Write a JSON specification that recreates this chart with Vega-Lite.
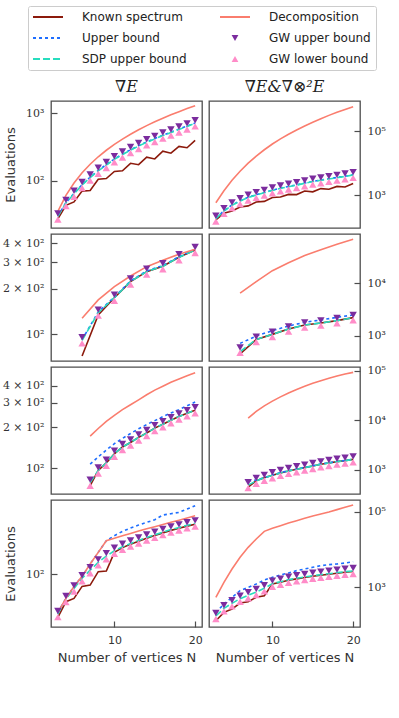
{
"$schema": "https://vega.github.io/schema/vega-lite/v6.json",
"padding": {"left": 1, "top": 5, "right": 0, "bottom": 0},
"background": "white",
"data": {"values": [
{"p":"1L","s":"K","n":3,"v":27.5},{"p":"1L","s":"K","n":4,"v":43.7},{"p":"1L","s":"K","n":5,"v":49.0},{"p":"1L","s":"K","n":6,"v":70.8},{"p":"1L","s":"K","n":7,"v":72.4},{"p":"1L","s":"K","n":8,"v":105.9},{"p":"1L","s":"K","n":9,"v":108.4},{"p":"1L","s":"K","n":10,"v":138.0},{"p":"1L","s":"K","n":11,"v":141.3},{"p":"1L","s":"K","n":12,"v":182.0},{"p":"1L","s":"K","n":13,"v":173.8},{"p":"1L","s":"K","n":14,"v":223.9},{"p":"1L","s":"K","n":15,"v":211.3},{"p":"1L","s":"K","n":16,"v":275.4},{"p":"1L","s":"K","n":17,"v":257.0},{"p":"1L","s":"K","n":18,"v":323.6},{"p":"1L","s":"K","n":19,"v":309.0},{"p":"1L","s":"K","n":20,"v":398.1},
{"p":"1L","s":"U","n":3,"v":30.3},{"p":"1L","s":"U","n":4,"v":47.9},{"p":"1L","s":"U","n":5,"v":65.4},{"p":"1L","s":"U","n":6,"v":88.1},{"p":"1L","s":"U","n":7,"v":113.5},{"p":"1L","s":"U","n":8,"v":143.0},{"p":"1L","s":"U","n":9,"v":173.9},{"p":"1L","s":"U","n":10,"v":211.4},{"p":"1L","s":"U","n":11,"v":248.4},{"p":"1L","s":"U","n":12,"v":288.5},{"p":"1L","s":"U","n":13,"v":331.2},{"p":"1L","s":"U","n":14,"v":376.0},{"p":"1L","s":"U","n":15,"v":421.9},{"p":"1L","s":"U","n":16,"v":473.3},{"p":"1L","s":"U","n":17,"v":525.0},{"p":"1L","s":"U","n":18,"v":582.3},{"p":"1L","s":"U","n":19,"v":646.0},{"p":"1L","s":"U","n":20,"v":716.4},
{"p":"1L","s":"S","n":3,"v":29.9},{"p":"1L","s":"S","n":4,"v":47.3},{"p":"1L","s":"S","n":5,"v":64.6},{"p":"1L","s":"S","n":6,"v":87.1},{"p":"1L","s":"S","n":7,"v":112.2},{"p":"1L","s":"S","n":8,"v":141.3},{"p":"1L","s":"S","n":9,"v":171.8},{"p":"1L","s":"S","n":10,"v":208.9},{"p":"1L","s":"S","n":11,"v":245.5},{"p":"1L","s":"S","n":12,"v":285.1},{"p":"1L","s":"S","n":13,"v":327.3},{"p":"1L","s":"S","n":14,"v":371.5},{"p":"1L","s":"S","n":15,"v":416.9},{"p":"1L","s":"S","n":16,"v":467.7},{"p":"1L","s":"S","n":17,"v":518.8},{"p":"1L","s":"S","n":18,"v":575.4},{"p":"1L","s":"S","n":19,"v":638.3},{"p":"1L","s":"S","n":20,"v":707.9},
{"p":"1L","s":"D","n":3,"v":35.5},{"p":"1L","s":"D","n":4,"v":61.2},{"p":"1L","s":"D","n":5,"v":93.3},{"p":"1L","s":"D","n":6,"v":131.8},{"p":"1L","s":"D","n":7,"v":176.6},{"p":"1L","s":"D","n":8,"v":227.5},{"p":"1L","s":"D","n":9,"v":283.8},{"p":"1L","s":"D","n":10,"v":346.7},{"p":"1L","s":"D","n":11,"v":415.0},{"p":"1L","s":"D","n":12,"v":489.8},{"p":"1L","s":"D","n":13,"v":570.2},{"p":"1L","s":"D","n":14,"v":656.1},{"p":"1L","s":"D","n":15,"v":746.5},{"p":"1L","s":"D","n":16,"v":843.3},{"p":"1L","s":"D","n":17,"v":946.2},{"p":"1L","s":"D","n":18,"v":1054},{"p":"1L","s":"D","n":19,"v":1169},{"p":"1L","s":"D","n":20,"v":1288},
{"p":"1L","s":"GU","n":3,"v":33.2},{"p":"1L","s":"GU","n":4,"v":52.5},{"p":"1L","s":"GU","n":5,"v":71.6},{"p":"1L","s":"GU","n":6,"v":96.6},{"p":"1L","s":"GU","n":7,"v":124.4},{"p":"1L","s":"GU","n":8,"v":156.7},{"p":"1L","s":"GU","n":9,"v":190.5},{"p":"1L","s":"GU","n":10,"v":231.7},{"p":"1L","s":"GU","n":11,"v":272.3},{"p":"1L","s":"GU","n":12,"v":316.2},{"p":"1L","s":"GU","n":13,"v":363.0},{"p":"1L","s":"GU","n":14,"v":412.0},{"p":"1L","s":"GU","n":15,"v":462.3},{"p":"1L","s":"GU","n":16,"v":518.7},{"p":"1L","s":"GU","n":17,"v":575.3},{"p":"1L","s":"GU","n":18,"v":638.1},{"p":"1L","s":"GU","n":19,"v":707.9},{"p":"1L","s":"GU","n":20,"v":785.1},
{"p":"1L","s":"GL","n":3,"v":27.0},{"p":"1L","s":"GL","n":4,"v":42.7},{"p":"1L","s":"GL","n":5,"v":58.3},{"p":"1L","s":"GL","n":6,"v":78.5},{"p":"1L","s":"GL","n":7,"v":101.2},{"p":"1L","s":"GL","n":8,"v":127.4},{"p":"1L","s":"GL","n":9,"v":154.9},{"p":"1L","s":"GL","n":10,"v":188.4},{"p":"1L","s":"GL","n":11,"v":221.4},{"p":"1L","s":"GL","n":12,"v":257.1},{"p":"1L","s":"GL","n":13,"v":295.1},{"p":"1L","s":"GL","n":14,"v":335.0},{"p":"1L","s":"GL","n":15,"v":375.9},{"p":"1L","s":"GL","n":16,"v":421.7},{"p":"1L","s":"GL","n":17,"v":467.8},{"p":"1L","s":"GL","n":18,"v":518.8},{"p":"1L","s":"GL","n":19,"v":575.6},{"p":"1L","s":"GL","n":20,"v":638.3},
{"p":"1R","s":"K","n":3,"v":166},{"p":"1R","s":"K","n":4,"v":269},{"p":"1R","s":"K","n":5,"v":316},{"p":"1R","s":"K","n":6,"v":422},{"p":"1R","s":"K","n":7,"v":457},{"p":"1R","s":"K","n":8,"v":603},{"p":"1R","s":"K","n":9,"v":631},{"p":"1R","s":"K","n":10,"v":832},{"p":"1R","s":"K","n":11,"v":871},{"p":"1R","s":"K","n":12,"v":1047},{"p":"1R","s":"K","n":13,"v":1030},{"p":"1R","s":"K","n":14,"v":1334},{"p":"1R","s":"K","n":15,"v":1259},{"p":"1R","s":"K","n":16,"v":1585},{"p":"1R","s":"K","n":17,"v":1514},{"p":"1R","s":"K","n":18,"v":1862},{"p":"1R","s":"K","n":19,"v":1778},{"p":"1R","s":"K","n":20,"v":2291},
{"p":"1R","s":"U","n":3,"v":186},{"p":"1R","s":"U","n":4,"v":322},{"p":"1R","s":"U","n":5,"v":489},{"p":"1R","s":"U","n":6,"v":659},{"p":"1R","s":"U","n":7,"v":849},{"p":"1R","s":"U","n":8,"v":1020},{"p":"1R","s":"U","n":9,"v":1199},{"p":"1R","s":"U","n":10,"v":1424},{"p":"1R","s":"U","n":11,"v":1654},{"p":"1R","s":"U","n":12,"v":1856},{"p":"1R","s":"U","n":13,"v":2083},{"p":"1R","s":"U","n":14,"v":2363},{"p":"1R","s":"U","n":15,"v":2683},{"p":"1R","s":"U","n":16,"v":2942},{"p":"1R","s":"U","n":17,"v":3225},{"p":"1R","s":"U","n":18,"v":3536},{"p":"1R","s":"U","n":19,"v":3878},{"p":"1R","s":"U","n":20,"v":4301},
{"p":"1R","s":"S","n":3,"v":182},{"p":"1R","s":"S","n":4,"v":316},{"p":"1R","s":"S","n":5,"v":479},{"p":"1R","s":"S","n":6,"v":646},{"p":"1R","s":"S","n":7,"v":832},{"p":"1R","s":"S","n":8,"v":1000},{"p":"1R","s":"S","n":9,"v":1175},{"p":"1R","s":"S","n":10,"v":1396},{"p":"1R","s":"S","n":11,"v":1622},{"p":"1R","s":"S","n":12,"v":1820},{"p":"1R","s":"S","n":13,"v":2042},{"p":"1R","s":"S","n":14,"v":2317},{"p":"1R","s":"S","n":15,"v":2630},{"p":"1R","s":"S","n":16,"v":2884},{"p":"1R","s":"S","n":17,"v":3162},{"p":"1R","s":"S","n":18,"v":3467},{"p":"1R","s":"S","n":19,"v":3802},{"p":"1R","s":"S","n":20,"v":4217},
{"p":"1R","s":"D","n":3,"v":575},{"p":"1R","s":"D","n":4,"v":1365},{"p":"1R","s":"D","n":5,"v":2884},{"p":"1R","s":"D","n":6,"v":5559},{"p":"1R","s":"D","n":7,"v":9886},{"p":"1R","s":"D","n":8,"v":16406},{"p":"1R","s":"D","n":9,"v":26002},{"p":"1R","s":"D","n":10,"v":39355},{"p":"1R","s":"D","n":11,"v":56885},{"p":"1R","s":"D","n":12,"v":79433},{"p":"1R","s":"D","n":13,"v":108393},{"p":"1R","s":"D","n":14,"v":144544},{"p":"1R","s":"D","n":15,"v":188365},{"p":"1R","s":"D","n":16,"v":242661},{"p":"1R","s":"D","n":17,"v":309030},{"p":"1R","s":"D","n":18,"v":384592},{"p":"1R","s":"D","n":19,"v":473151},{"p":"1R","s":"D","n":20,"v":575440},
{"p":"1R","s":"GU","n":3,"v":224},{"p":"1R","s":"GU","n":4,"v":389},{"p":"1R","s":"GU","n":5,"v":589},{"p":"1R","s":"GU","n":6,"v":795},{"p":"1R","s":"GU","n":7,"v":1023},{"p":"1R","s":"GU","n":8,"v":1230},{"p":"1R","s":"GU","n":9,"v":1445},{"p":"1R","s":"GU","n":10,"v":1717},{"p":"1R","s":"GU","n":11,"v":1995},{"p":"1R","s":"GU","n":12,"v":2239},{"p":"1R","s":"GU","n":13,"v":2512},{"p":"1R","s":"GU","n":14,"v":2850},{"p":"1R","s":"GU","n":15,"v":3235},{"p":"1R","s":"GU","n":16,"v":3547},{"p":"1R","s":"GU","n":17,"v":3890},{"p":"1R","s":"GU","n":18,"v":4264},{"p":"1R","s":"GU","n":19,"v":4677},{"p":"1R","s":"GU","n":20,"v":5187},
{"p":"1R","s":"GL","n":3,"v":148},{"p":"1R","s":"GL","n":4,"v":257},{"p":"1R","s":"GL","n":5,"v":389},{"p":"1R","s":"GL","n":6,"v":525},{"p":"1R","s":"GL","n":7,"v":676},{"p":"1R","s":"GL","n":8,"v":813},{"p":"1R","s":"GL","n":9,"v":955},{"p":"1R","s":"GL","n":10,"v":1135},{"p":"1R","s":"GL","n":11,"v":1319},{"p":"1R","s":"GL","n":12,"v":1480},{"p":"1R","s":"GL","n":13,"v":1660},{"p":"1R","s":"GL","n":14,"v":1884},{"p":"1R","s":"GL","n":15,"v":2138},{"p":"1R","s":"GL","n":16,"v":2345},{"p":"1R","s":"GL","n":17,"v":2571},{"p":"1R","s":"GL","n":18,"v":2819},{"p":"1R","s":"GL","n":19,"v":3091},{"p":"1R","s":"GL","n":20,"v":3428},
{"p":"2L","s":"K","n":6,"v":71.5},{"p":"2L","s":"K","n":8,"v":134},{"p":"2L","s":"K","n":10,"v":174.2},{"p":"2L","s":"K","n":12,"v":222.8},{"p":"2L","s":"K","n":14,"v":259.4},{"p":"2L","s":"K","n":16,"v":281.8},{"p":"2L","s":"K","n":18,"v":322.8},{"p":"2L","s":"K","n":20,"v":361.4},
{"p":"2L","s":"U","n":6,"v":91.7},{"p":"2L","s":"U","n":8,"v":140.1},{"p":"2L","s":"U","n":10,"v":175.9},{"p":"2L","s":"U","n":12,"v":225.0},{"p":"2L","s":"U","n":14,"v":262.0},{"p":"2L","s":"U","n":16,"v":284.6},{"p":"2L","s":"U","n":18,"v":326.0},{"p":"2L","s":"U","n":20,"v":365.0},
{"p":"2L","s":"S","n":6,"v":90.8},{"p":"2L","s":"S","n":8,"v":138.7},{"p":"2L","s":"S","n":10,"v":174.2},{"p":"2L","s":"S","n":12,"v":222.8},{"p":"2L","s":"S","n":14,"v":259.4},{"p":"2L","s":"S","n":16,"v":281.8},{"p":"2L","s":"S","n":18,"v":322.8},{"p":"2L","s":"S","n":20,"v":361.4},
{"p":"2L","s":"D","n":6,"v":127.1},{"p":"2L","s":"D","n":8,"v":168.3},{"p":"2L","s":"D","n":10,"v":206.1},{"p":"2L","s":"D","n":12,"v":242.7},{"p":"2L","s":"D","n":14,"v":279.9},{"p":"2L","s":"D","n":16,"v":309.0},{"p":"2L","s":"D","n":18,"v":338.8},{"p":"2L","s":"D","n":20,"v":364.8},
{"p":"2L","s":"GU","n":6,"v":95.1},{"p":"2L","s":"GU","n":8,"v":145.2},{"p":"2L","s":"GU","n":10,"v":182.4},{"p":"2L","s":"GU","n":12,"v":233.3},{"p":"2L","s":"GU","n":14,"v":271.6},{"p":"2L","s":"GU","n":16,"v":295.1},{"p":"2L","s":"GU","n":18,"v":338.0},{"p":"2L","s":"GU","n":20,"v":378.4},
{"p":"2L","s":"GL","n":6,"v":86.7},{"p":"2L","s":"GL","n":8,"v":132.5},{"p":"2L","s":"GL","n":10,"v":166.4},{"p":"2L","s":"GL","n":12,"v":212.8},{"p":"2L","s":"GL","n":14,"v":247.7},{"p":"2L","s":"GL","n":16,"v":269.1},{"p":"2L","s":"GL","n":18,"v":308.3},{"p":"2L","s":"GL","n":20,"v":345.1},
{"p":"2R","s":"K","n":6,"v":447},{"p":"2R","s":"K","n":8,"v":851},{"p":"2R","s":"K","n":10,"v":1059},{"p":"2R","s":"K","n":12,"v":1340},{"p":"2R","s":"K","n":14,"v":1600},{"p":"2R","s":"K","n":16,"v":1746},{"p":"2R","s":"K","n":18,"v":1936},{"p":"2R","s":"K","n":20,"v":2208},
{"p":"2R","s":"U","n":6,"v":713},{"p":"2R","s":"U","n":8,"v":986},{"p":"2R","s":"U","n":10,"v":1247},{"p":"2R","s":"U","n":12,"v":1531},{"p":"2R","s":"U","n":14,"v":1799},{"p":"2R","s":"U","n":16,"v":1995},{"p":"2R","s":"U","n":18,"v":2239},{"p":"2R","s":"U","n":20,"v":2483},
{"p":"2R","s":"S","n":6,"v":494},{"p":"2R","s":"S","n":8,"v":851},{"p":"2R","s":"S","n":10,"v":1059},{"p":"2R","s":"S","n":12,"v":1340},{"p":"2R","s":"S","n":14,"v":1600},{"p":"2R","s":"S","n":16,"v":1746},{"p":"2R","s":"S","n":18,"v":1936},{"p":"2R","s":"S","n":20,"v":2208},
{"p":"2R","s":"D","n":6,"v":6457},{"p":"2R","s":"D","n":8,"v":10715},{"p":"2R","s":"D","n":10,"v":17378},{"p":"2R","s":"D","n":12,"v":24547},{"p":"2R","s":"D","n":14,"v":33884},{"p":"2R","s":"D","n":16,"v":43652},{"p":"2R","s":"D","n":18,"v":55590},{"p":"2R","s":"D","n":20,"v":69183},
{"p":"2R","s":"GU","n":6,"v":597},{"p":"2R","s":"GU","n":8,"v":955},{"p":"2R","s":"GU","n":10,"v":1188},{"p":"2R","s":"GU","n":12,"v":1503},{"p":"2R","s":"GU","n":14,"v":1795},{"p":"2R","s":"GU","n":16,"v":1959},{"p":"2R","s":"GU","n":18,"v":2172},{"p":"2R","s":"GU","n":20,"v":2477},
{"p":"2R","s":"GL","n":6,"v":474},{"p":"2R","s":"GL","n":8,"v":758},{"p":"2R","s":"GL","n":10,"v":944},{"p":"2R","s":"GL","n":12,"v":1194},{"p":"2R","s":"GL","n":14,"v":1426},{"p":"2R","s":"GL","n":16,"v":1556},{"p":"2R","s":"GL","n":18,"v":1725},{"p":"2R","s":"GL","n":20,"v":1968},
{"p":"3L","s":"K","n":7,"v":74.5},{"p":"3L","s":"K","n":8,"v":96.2},{"p":"3L","s":"K","n":9,"v":109.4},{"p":"3L","s":"K","n":10,"v":127.4},{"p":"3L","s":"K","n":11,"v":142.9},{"p":"3L","s":"K","n":12,"v":154.2},{"p":"3L","s":"K","n":13,"v":167.9},{"p":"3L","s":"K","n":14,"v":180.7},{"p":"3L","s":"K","n":15,"v":196.3},{"p":"3L","s":"K","n":16,"v":209.9},{"p":"3L","s":"K","n":17,"v":224.4},{"p":"3L","s":"K","n":18,"v":238.8},{"p":"3L","s":"K","n":19,"v":252.4},{"p":"3L","s":"K","n":20,"v":265.5},
{"p":"3L","s":"U","n":7,"v":106.9},{"p":"3L","s":"U","n":8,"v":120.8},{"p":"3L","s":"U","n":9,"v":135.8},{"p":"3L","s":"U","n":10,"v":151.0},{"p":"3L","s":"U","n":11,"v":165.2},{"p":"3L","s":"U","n":12,"v":179.5},{"p":"3L","s":"U","n":13,"v":194.1},{"p":"3L","s":"U","n":14,"v":208.4},{"p":"3L","s":"U","n":15,"v":222.8},{"p":"3L","s":"U","n":16,"v":238.2},{"p":"3L","s":"U","n":17,"v":253.5},{"p":"3L","s":"U","n":18,"v":267.9},{"p":"3L","s":"U","n":19,"v":286.4},{"p":"3L","s":"U","n":20,"v":304.8},
{"p":"3L","s":"S","n":7,"v":78.3},{"p":"3L","s":"S","n":8,"v":96.2},{"p":"3L","s":"S","n":9,"v":109.4},{"p":"3L","s":"S","n":10,"v":127.4},{"p":"3L","s":"S","n":11,"v":142.9},{"p":"3L","s":"S","n":12,"v":154.2},{"p":"3L","s":"S","n":13,"v":167.9},{"p":"3L","s":"S","n":14,"v":180.7},{"p":"3L","s":"S","n":15,"v":196.3},{"p":"3L","s":"S","n":16,"v":209.9},{"p":"3L","s":"S","n":17,"v":224.4},{"p":"3L","s":"S","n":18,"v":238.8},{"p":"3L","s":"S","n":19,"v":252.4},{"p":"3L","s":"S","n":20,"v":265.5},
{"p":"3L","s":"D","n":7,"v":171.8},{"p":"3L","s":"D","n":8,"v":195.0},{"p":"3L","s":"D","n":9,"v":220.3},{"p":"3L","s":"D","n":10,"v":243.8},{"p":"3L","s":"D","n":11,"v":267.9},{"p":"3L","s":"D","n":12,"v":291.1},{"p":"3L","s":"D","n":13,"v":316.2},{"p":"3L","s":"D","n":14,"v":344.4},{"p":"3L","s":"D","n":15,"v":372.4},{"p":"3L","s":"D","n":16,"v":398.1},{"p":"3L","s":"D","n":17,"v":425.6},{"p":"3L","s":"D","n":18,"v":449.8},{"p":"3L","s":"D","n":19,"v":475.3},{"p":"3L","s":"D","n":20,"v":500.0},
{"p":"3L","s":"GU","n":7,"v":82.4},{"p":"3L","s":"GU","n":8,"v":101.2},{"p":"3L","s":"GU","n":9,"v":115.1},{"p":"3L","s":"GU","n":10,"v":134.0},{"p":"3L","s":"GU","n":11,"v":150.3},{"p":"3L","s":"GU","n":12,"v":162.2},{"p":"3L","s":"GU","n":13,"v":176.6},{"p":"3L","s":"GU","n":14,"v":190.1},{"p":"3L","s":"GU","n":15,"v":206.5},{"p":"3L","s":"GU","n":16,"v":220.8},{"p":"3L","s":"GU","n":17,"v":236.1},{"p":"3L","s":"GU","n":18,"v":251.2},{"p":"3L","s":"GU","n":19,"v":265.5},{"p":"3L","s":"GU","n":20,"v":279.3},
{"p":"3L","s":"GL","n":7,"v":74.4},{"p":"3L","s":"GL","n":8,"v":91.4},{"p":"3L","s":"GL","n":9,"v":104.0},{"p":"3L","s":"GL","n":10,"v":121.1},{"p":"3L","s":"GL","n":11,"v":135.8},{"p":"3L","s":"GL","n":12,"v":146.6},{"p":"3L","s":"GL","n":13,"v":159.6},{"p":"3L","s":"GL","n":14,"v":171.8},{"p":"3L","s":"GL","n":15,"v":186.6},{"p":"3L","s":"GL","n":16,"v":199.5},{"p":"3L","s":"GL","n":17,"v":213.3},{"p":"3L","s":"GL","n":18,"v":227.0},{"p":"3L","s":"GL","n":19,"v":239.9},{"p":"3L","s":"GL","n":20,"v":252.4},
{"p":"3R","s":"K","n":7,"v":450},{"p":"3R","s":"K","n":8,"v":603},{"p":"3R","s":"K","n":9,"v":692},{"p":"3R","s":"K","n":10,"v":782},{"p":"3R","s":"K","n":11,"v":871},{"p":"3R","s":"K","n":12,"v":955},{"p":"3R","s":"K","n":13,"v":1030},{"p":"3R","s":"K","n":14,"v":1114},{"p":"3R","s":"K","n":15,"v":1202},{"p":"3R","s":"K","n":16,"v":1297},{"p":"3R","s":"K","n":17,"v":1380},{"p":"3R","s":"K","n":18,"v":1469},{"p":"3R","s":"K","n":19,"v":1538},{"p":"3R","s":"K","n":20,"v":1633},
{"p":"3R","s":"U","n":7,"v":600},{"p":"3R","s":"U","n":8,"v":625},{"p":"3R","s":"U","n":9,"v":700},{"p":"3R","s":"U","n":10,"v":790},{"p":"3R","s":"U","n":11,"v":880},{"p":"3R","s":"U","n":12,"v":965},{"p":"3R","s":"U","n":13,"v":1040},{"p":"3R","s":"U","n":14,"v":1125},{"p":"3R","s":"U","n":15,"v":1214},{"p":"3R","s":"U","n":16,"v":1310},{"p":"3R","s":"U","n":17,"v":1394},{"p":"3R","s":"U","n":18,"v":1484},{"p":"3R","s":"U","n":19,"v":1553},{"p":"3R","s":"U","n":20,"v":1649},
{"p":"3R","s":"S","n":7,"v":493},{"p":"3R","s":"S","n":8,"v":603},{"p":"3R","s":"S","n":9,"v":692},{"p":"3R","s":"S","n":10,"v":782},{"p":"3R","s":"S","n":11,"v":871},{"p":"3R","s":"S","n":12,"v":955},{"p":"3R","s":"S","n":13,"v":1030},{"p":"3R","s":"S","n":14,"v":1114},{"p":"3R","s":"S","n":15,"v":1202},{"p":"3R","s":"S","n":16,"v":1297},{"p":"3R","s":"S","n":17,"v":1380},{"p":"3R","s":"S","n":18,"v":1469},{"p":"3R","s":"S","n":19,"v":1538},{"p":"3R","s":"S","n":20,"v":1633},
{"p":"3R","s":"D","n":7,"v":11143},{"p":"3R","s":"D","n":8,"v":15136},{"p":"3R","s":"D","n":9,"v":19634},{"p":"3R","s":"D","n":10,"v":24378},{"p":"3R","s":"D","n":11,"v":29717},{"p":"3R","s":"D","n":12,"v":35727},{"p":"3R","s":"D","n":13,"v":41687},{"p":"3R","s":"D","n":14,"v":48641},{"p":"3R","s":"D","n":15,"v":55847},{"p":"3R","s":"D","n":16,"v":63096},{"p":"3R","s":"D","n":17,"v":70307},{"p":"3R","s":"D","n":18,"v":78163},{"p":"3R","s":"D","n":19,"v":85704},{"p":"3R","s":"D","n":20,"v":92683},
{"p":"3R","s":"GU","n":7,"v":566},{"p":"3R","s":"GU","n":8,"v":692},{"p":"3R","s":"GU","n":9,"v":794},{"p":"3R","s":"GU","n":10,"v":898},{"p":"3R","s":"GU","n":11,"v":1000},{"p":"3R","s":"GU","n":12,"v":1096},{"p":"3R","s":"GU","n":13,"v":1182},{"p":"3R","s":"GU","n":14,"v":1279},{"p":"3R","s":"GU","n":15,"v":1380},{"p":"3R","s":"GU","n":16,"v":1489},{"p":"3R","s":"GU","n":17,"v":1584},{"p":"3R","s":"GU","n":18,"v":1686},{"p":"3R","s":"GU","n":19,"v":1766},{"p":"3R","s":"GU","n":20,"v":1875},
{"p":"3R","s":"GL","n":7,"v":429},{"p":"3R","s":"GL","n":8,"v":525},{"p":"3R","s":"GL","n":9,"v":603},{"p":"3R","s":"GL","n":10,"v":681},{"p":"3R","s":"GL","n":11,"v":759},{"p":"3R","s":"GL","n":12,"v":832},{"p":"3R","s":"GL","n":13,"v":897},{"p":"3R","s":"GL","n":14,"v":970},{"p":"3R","s":"GL","n":15,"v":1047},{"p":"3R","s":"GL","n":16,"v":1130},{"p":"3R","s":"GL","n":17,"v":1202},{"p":"3R","s":"GL","n":18,"v":1280},{"p":"3R","s":"GL","n":19,"v":1340},{"p":"3R","s":"GL","n":20,"v":1422},
{"p":"4L","s":"K","n":3,"v":27.7},{"p":"4L","s":"K","n":4,"v":44.1},{"p":"4L","s":"K","n":5,"v":48.6},{"p":"4L","s":"K","n":6,"v":69.3},{"p":"4L","s":"K","n":7,"v":72.1},{"p":"4L","s":"K","n":8,"v":107.2},{"p":"4L","s":"K","n":9,"v":109.4},{"p":"4L","s":"K","n":10,"v":190.1},{"p":"4L","s":"K","n":11,"v":218.8},{"p":"4L","s":"K","n":12,"v":241.6},{"p":"4L","s":"K","n":13,"v":264.2},{"p":"4L","s":"K","n":14,"v":288.4},{"p":"4L","s":"K","n":15,"v":312.6},{"p":"4L","s":"K","n":16,"v":338.8},{"p":"4L","s":"K","n":17,"v":364.8},{"p":"4L","s":"K","n":18,"v":389.0},{"p":"4L","s":"K","n":19,"v":414.0},{"p":"4L","s":"K","n":20,"v":438.5},
{"p":"4L","s":"U","n":3,"v":32.1},{"p":"4L","s":"U","n":4,"v":48.6},{"p":"4L","s":"U","n":5,"v":69.3},{"p":"4L","s":"U","n":6,"v":93.3},{"p":"4L","s":"U","n":7,"v":134.6},{"p":"4L","s":"U","n":8,"v":190.1},{"p":"4L","s":"U","n":9,"v":268.5},{"p":"4L","s":"U","n":10,"v":311.9},{"p":"4L","s":"U","n":11,"v":354.0},{"p":"4L","s":"U","n":12,"v":390.8},{"p":"4L","s":"U","n":13,"v":427.6},{"p":"4L","s":"U","n":14,"v":462.4},{"p":"4L","s":"U","n":15,"v":501.2},{"p":"4L","s":"U","n":16,"v":575.4},{"p":"4L","s":"U","n":17,"v":598.4},{"p":"4L","s":"U","n":18,"v":622.3},{"p":"4L","s":"U","n":19,"v":687.1},{"p":"4L","s":"U","n":20,"v":758.6},
{"p":"4L","s":"S","n":3,"v":30.5},{"p":"4L","s":"S","n":4,"v":47.6},{"p":"4L","s":"S","n":5,"v":65.3},{"p":"4L","s":"S","n":6,"v":88.1},{"p":"4L","s":"S","n":7,"v":112.2},{"p":"4L","s":"S","n":8,"v":141.3},{"p":"4L","s":"S","n":9,"v":169.8},{"p":"4L","s":"S","n":10,"v":199.5},{"p":"4L","s":"S","n":11,"v":223.9},{"p":"4L","s":"S","n":12,"v":247.2},{"p":"4L","s":"S","n":13,"v":270.4},{"p":"4L","s":"S","n":14,"v":295.1},{"p":"4L","s":"S","n":15,"v":319.9},{"p":"4L","s":"S","n":16,"v":346.7},{"p":"4L","s":"S","n":17,"v":373.3},{"p":"4L","s":"S","n":18,"v":398.1},{"p":"4L","s":"S","n":19,"v":423.6},{"p":"4L","s":"S","n":20,"v":448.7},
{"p":"4L","s":"D","n":3,"v":32.1},{"p":"4L","s":"D","n":4,"v":48.6},{"p":"4L","s":"D","n":5,"v":69.3},{"p":"4L","s":"D","n":6,"v":93.3},{"p":"4L","s":"D","n":7,"v":134.6},{"p":"4L","s":"D","n":8,"v":190.1},{"p":"4L","s":"D","n":9,"v":268.5},{"p":"4L","s":"D","n":10,"v":289.7},{"p":"4L","s":"D","n":11,"v":311.2},{"p":"4L","s":"D","n":12,"v":333.4},{"p":"4L","s":"D","n":13,"v":357.3},{"p":"4L","s":"D","n":14,"v":381.9},{"p":"4L","s":"D","n":15,"v":407.4},{"p":"4L","s":"D","n":16,"v":434.5},{"p":"4L","s":"D","n":17,"v":463.4},{"p":"4L","s":"D","n":18,"v":494.0},{"p":"4L","s":"D","n":19,"v":527.2},{"p":"4L","s":"D","n":20,"v":562.3},
{"p":"4L","s":"GU","n":3,"v":33.4},{"p":"4L","s":"GU","n":4,"v":52.1},{"p":"4L","s":"GU","n":5,"v":71.4},{"p":"4L","s":"GU","n":6,"v":96.4},{"p":"4L","s":"GU","n":7,"v":122.7},{"p":"4L","s":"GU","n":8,"v":154.6},{"p":"4L","s":"GU","n":9,"v":185.8},{"p":"4L","s":"GU","n":10,"v":218.3},{"p":"4L","s":"GU","n":11,"v":245.0},{"p":"4L","s":"GU","n":12,"v":270.4},{"p":"4L","s":"GU","n":13,"v":295.8},{"p":"4L","s":"GU","n":14,"v":322.8},{"p":"4L","s":"GU","n":15,"v":350.0},{"p":"4L","s":"GU","n":16,"v":379.3},{"p":"4L","s":"GU","n":17,"v":408.4},{"p":"4L","s":"GU","n":18,"v":435.5},{"p":"4L","s":"GU","n":19,"v":463.4},{"p":"4L","s":"GU","n":20,"v":490.9},
{"p":"4L","s":"GL","n":3,"v":27.9},{"p":"4L","s":"GL","n":4,"v":43.5},{"p":"4L","s":"GL","n":5,"v":59.7},{"p":"4L","s":"GL","n":6,"v":80.5},{"p":"4L","s":"GL","n":7,"v":102.6},{"p":"4L","s":"GL","n":8,"v":129.2},{"p":"4L","s":"GL","n":9,"v":155.2},{"p":"4L","s":"GL","n":10,"v":182.4},{"p":"4L","s":"GL","n":11,"v":204.7},{"p":"4L","s":"GL","n":12,"v":226.0},{"p":"4L","s":"GL","n":13,"v":247.2},{"p":"4L","s":"GL","n":14,"v":269.7},{"p":"4L","s":"GL","n":15,"v":292.4},{"p":"4L","s":"GL","n":16,"v":316.9},{"p":"4L","s":"GL","n":17,"v":341.2},{"p":"4L","s":"GL","n":18,"v":363.9},{"p":"4L","s":"GL","n":19,"v":387.2},{"p":"4L","s":"GL","n":20,"v":410.1},
{"p":"4R","s":"K","n":3,"v":131.5},{"p":"4R","s":"K","n":4,"v":218.3},{"p":"4R","s":"K","n":5,"v":267.3},{"p":"4R","s":"K","n":6,"v":385.5},{"p":"4R","s":"K","n":7,"v":417.8},{"p":"4R","s":"K","n":8,"v":544.5},{"p":"4R","s":"K","n":9,"v":602.6},{"p":"4R","s":"K","n":10,"v":1230},{"p":"4R","s":"K","n":11,"v":1365},{"p":"4R","s":"K","n":12,"v":1542},{"p":"4R","s":"K","n":13,"v":1671},{"p":"4R","s":"K","n":14,"v":1812},{"p":"4R","s":"K","n":15,"v":1963},{"p":"4R","s":"K","n":16,"v":2090},{"p":"4R","s":"K","n":17,"v":2218},{"p":"4R","s":"K","n":18,"v":2360},{"p":"4R","s":"K","n":19,"v":2506},{"p":"4R","s":"K","n":20,"v":2612},
{"p":"4R","s":"U","n":3,"v":214},{"p":"4R","s":"U","n":4,"v":363.1},{"p":"4R","s":"U","n":5,"v":544.5},{"p":"4R","s":"U","n":6,"v":816.6},{"p":"4R","s":"U","n":7,"v":1000},{"p":"4R","s":"U","n":8,"v":1225},{"p":"4R","s":"U","n":9,"v":1563},{"p":"4R","s":"U","n":10,"v":1837},{"p":"4R","s":"U","n":11,"v":2118},{"p":"4R","s":"U","n":12,"v":2393},{"p":"4R","s":"U","n":13,"v":2761},{"p":"4R","s":"U","n":14,"v":3055},{"p":"4R","s":"U","n":15,"v":3381},{"p":"4R","s":"U","n":16,"v":3741},{"p":"4R","s":"U","n":17,"v":3981},{"p":"4R","s":"U","n":18,"v":4140},{"p":"4R","s":"U","n":19,"v":4395},{"p":"4R","s":"U","n":20,"v":4764},
{"p":"4R","s":"S","n":3,"v":174.6},{"p":"4R","s":"S","n":4,"v":278.6},{"p":"4R","s":"S","n":5,"v":377.6},{"p":"4R","s":"S","n":6,"v":501.2},{"p":"4R","s":"S","n":7,"v":615.2},{"p":"4R","s":"S","n":8,"v":753.4},{"p":"4R","s":"S","n":9,"v":941.9},{"p":"4R","s":"S","n":10,"v":1250},{"p":"4R","s":"S","n":11,"v":1413},{"p":"4R","s":"S","n":12,"v":1596},{"p":"4R","s":"S","n":13,"v":1730},{"p":"4R","s":"S","n":14,"v":1875},{"p":"4R","s":"S","n":15,"v":2032},{"p":"4R","s":"S","n":16,"v":2163},{"p":"4R","s":"S","n":17,"v":2296},{"p":"4R","s":"S","n":18,"v":2443},{"p":"4R","s":"S","n":19,"v":2594},{"p":"4R","s":"S","n":20,"v":2704},
{"p":"4R","s":"D","n":3,"v":544.5},{"p":"4R","s":"D","n":4,"v":1355},{"p":"4R","s":"D","n":5,"v":3055},{"p":"4R","s":"D","n":6,"v":6209},{"p":"4R","s":"D","n":7,"v":11402},{"p":"4R","s":"D","n":8,"v":18967},{"p":"4R","s":"D","n":9,"v":30200},{"p":"4R","s":"D","n":10,"v":36308},{"p":"4R","s":"D","n":11,"v":42658},{"p":"4R","s":"D","n":12,"v":50119},{"p":"4R","s":"D","n":13,"v":57810},{"p":"4R","s":"D","n":14,"v":66681},{"p":"4R","s":"D","n":15,"v":76736},{"p":"4R","s":"D","n":16,"v":86696},{"p":"4R","s":"D","n":17,"v":97949},{"p":"4R","s":"D","n":18,"v":112980},{"p":"4R","s":"D","n":19,"v":130317},{"p":"4R","s":"D","n":20,"v":149968},
{"p":"4R","s":"GU","n":3,"v":209.9},{"p":"4R","s":"GU","n":4,"v":334.9},{"p":"4R","s":"GU","n":5,"v":453.9},{"p":"4R","s":"GU","n":6,"v":602.5},{"p":"4R","s":"GU","n":7,"v":739.5},{"p":"4R","s":"GU","n":8,"v":905.6},{"p":"4R","s":"GU","n":9,"v":1132},{"p":"4R","s":"GU","n":10,"v":1503},{"p":"4R","s":"GU","n":11,"v":1698},{"p":"4R","s":"GU","n":12,"v":1918},{"p":"4R","s":"GU","n":13,"v":2079},{"p":"4R","s":"GU","n":14,"v":2254},{"p":"4R","s":"GU","n":15,"v":2442},{"p":"4R","s":"GU","n":16,"v":2600},{"p":"4R","s":"GU","n":17,"v":2760},{"p":"4R","s":"GU","n":18,"v":2937},{"p":"4R","s":"GU","n":19,"v":3118},{"p":"4R","s":"GU","n":20,"v":3250},
{"p":"4R","s":"GL","n":3,"v":145.3},{"p":"4R","s":"GL","n":4,"v":231.8},{"p":"4R","s":"GL","n":5,"v":314.1},{"p":"4R","s":"GL","n":6,"v":417.0},{"p":"4R","s":"GL","n":7,"v":511.8},{"p":"4R","s":"GL","n":8,"v":626.8},{"p":"4R","s":"GL","n":9,"v":783.6},{"p":"4R","s":"GL","n":10,"v":1040},{"p":"4R","s":"GL","n":11,"v":1176},{"p":"4R","s":"GL","n":12,"v":1328},{"p":"4R","s":"GL","n":13,"v":1439},{"p":"4R","s":"GL","n":14,"v":1560},{"p":"4R","s":"GL","n":15,"v":1691},{"p":"4R","s":"GL","n":16,"v":1800},{"p":"4R","s":"GL","n":17,"v":1910},{"p":"4R","s":"GL","n":18,"v":2032},{"p":"4R","s":"GL","n":19,"v":2158},{"p":"4R","s":"GL","n":20,"v":2250}
]},
"columns": 2,
"spacing": {"row": 6, "column": 7},
"bounds": "flush",
"concat": [
{"width": 151, "height": 127, "title": "∇E",
 "transform": [{"filter": "datum.p=='1L'"}],
 "encoding": {
  "x": {"field": "n", "type": "quantitative", "scale": {"domain": [2.15, 20.85], "nice": false, "zero": false}, "axis": null},
  "y": {"field": "v", "type": "quantitative", "scale": {"type": "log", "domain": [20.2, 1514], "nice": false}, "axis": {"orient": "left", "values": [100, 1000], "title": "Evaluations", "labelExpr": "datum.value==100?'10²':datum.value==1000?'10³':''"}},
  "color": {"field": "s", "type": "nominal", "scale": {"domain": ["K","U","S","D","GU","GL"], "range": ["#8c1a0c","#1e6eff","#28dcbe","#fa7d6e","#7b2c9e","#ff8cc8"]},
   "legend": {"orient": "none", "legendX": -23, "legendY": -95, "title": null, "columns": 2, "symbolSize": 100, "symbolOffset": 33, "columnPadding": 29, "rowPadding": 9, "padding": 5, "labelFont": "DejaVu Sans", "labelFontSize": 12, "labelColor": "#222222", "strokeColor": "#cccccc", "fillColor": "white", "cornerRadius": 2,
    "labelExpr": "datum.value=='K'?'Known spectrum':datum.value=='D'?'Decomposition':datum.value=='U'?'Upper bound':datum.value=='GU'?'GW upper bound':datum.value=='S'?'SDP upper bound':'GW lower bound'",
    "encode": {"symbols": {"update": {
      "x": {"value": 15},
      "shape": {"signal": "datum.value=='GU' ? 'triangle-down' : datum.value=='GL' ? 'triangle-up' : 'M-3,0H3'"},
      "size": {"signal": "(datum.value=='GU' || datum.value=='GL') ? 45 : 100"},
      "fill": {"signal": "(datum.value=='GU' || datum.value=='GL') ? scale('color', datum.value) : 'transparent'"},
      "stroke": {"signal": "(datum.value=='GU' || datum.value=='GL') ? 'transparent' : scale('color', datum.value)"},
      "strokeWidth": {"signal": "(datum.value=='GU' || datum.value=='GL') ? 0 : 2"},
      "strokeDash": {"signal": "datum.value=='U' ? [3,3] : datum.value=='S' ? [7,3] : [1,0]"},
      "opacity": {"value": 1}
    }}}}}
 },
 "layer": [
  {"transform": [{"filter": "datum.s=='K'"}], "mark": {"type": "line", "strokeWidth": 1.6}},
  {"transform": [{"filter": "datum.s=='U'"}], "mark": {"type": "line", "strokeWidth": 1.6, "strokeDash": [3, 3]}},
  {"transform": [{"filter": "datum.s=='S'"}], "mark": {"type": "line", "strokeWidth": 1.6, "strokeDash": [7, 3]}},
  {"transform": [{"filter": "datum.s=='D'"}], "mark": {"type": "line", "strokeWidth": 1.6}},
  {"transform": [{"filter": "datum.s=='GU'"}], "mark": {"type": "point", "shape": "triangle-down", "filled": true, "size": 55, "opacity": 1}},
  {"transform": [{"filter": "datum.s=='GL'"}], "mark": {"type": "point", "shape": "triangle-up", "filled": true, "size": 55, "opacity": 1}}
 ]},
{"width": 151, "height": 127, "title": "∇E&∇⊗²E",
 "transform": [{"filter": "datum.p=='1R'"}],
 "encoding": {
  "x": {"field": "n", "type": "quantitative", "scale": {"domain": [2.15, 20.85], "nice": false, "zero": false}, "axis": null},
  "y": {"field": "v", "type": "quantitative", "scale": {"type": "log", "domain": [93, 870000], "nice": false}, "axis": {"orient": "right", "values": [1000, 100000], "title": null, "labelExpr": "datum.value==1000?'10³':datum.value==100000?'10⁵':''"}},
  "color": {"field": "s", "type": "nominal", "scale": {"domain": ["K","U","S","D","GU","GL"], "range": ["#8c1a0c","#1e6eff","#28dcbe","#fa7d6e","#7b2c9e","#ff8cc8"]}}
 },
 "layer": [
  {"transform": [{"filter": "datum.s=='K'"}], "mark": {"type": "line", "strokeWidth": 1.6}},
  {"transform": [{"filter": "datum.s=='U'"}], "mark": {"type": "line", "strokeWidth": 1.6, "strokeDash": [3, 3]}},
  {"transform": [{"filter": "datum.s=='S'"}], "mark": {"type": "line", "strokeWidth": 1.6, "strokeDash": [7, 3]}},
  {"transform": [{"filter": "datum.s=='D'"}], "mark": {"type": "line", "strokeWidth": 1.6}},
  {"transform": [{"filter": "datum.s=='GU'"}], "mark": {"type": "point", "shape": "triangle-down", "filled": true, "size": 55, "opacity": 1}},
  {"transform": [{"filter": "datum.s=='GL'"}], "mark": {"type": "point", "shape": "triangle-up", "filled": true, "size": 55, "opacity": 1}}
 ]},
{"width": 151, "height": 127,
 "transform": [{"filter": "datum.p=='2L'"}],
 "encoding": {
  "x": {"field": "n", "type": "quantitative", "scale": {"domain": [2.15, 20.85], "nice": false, "zero": false}, "axis": null},
  "y": {"field": "v", "type": "quantitative", "scale": {"type": "log", "domain": [66.2, 461], "nice": false}, "axis": {"orient": "left", "values": [100, 200, 300, 400], "title": null, "labelExpr": "datum.value==100?'10²':datum.value==200?'2 × 10²':datum.value==300?'3 × 10²':datum.value==400?'4 × 10²':''"}},
  "color": {"field": "s", "type": "nominal", "scale": {"domain": ["K","U","S","D","GU","GL"], "range": ["#8c1a0c","#1e6eff","#28dcbe","#fa7d6e","#7b2c9e","#ff8cc8"]}}
 },
 "layer": [
  {"transform": [{"filter": "datum.s=='K'"}], "mark": {"type": "line", "strokeWidth": 1.6}},
  {"transform": [{"filter": "datum.s=='U'"}], "mark": {"type": "line", "strokeWidth": 1.6, "strokeDash": [3, 3]}},
  {"transform": [{"filter": "datum.s=='S'"}], "mark": {"type": "line", "strokeWidth": 1.6, "strokeDash": [7, 3]}},
  {"transform": [{"filter": "datum.s=='D'"}], "mark": {"type": "line", "strokeWidth": 1.6}},
  {"transform": [{"filter": "datum.s=='GU'"}], "mark": {"type": "point", "shape": "triangle-down", "filled": true, "size": 55, "opacity": 1}},
  {"transform": [{"filter": "datum.s=='GL'"}], "mark": {"type": "point", "shape": "triangle-up", "filled": true, "size": 55, "opacity": 1}}
 ]},
{"width": 151, "height": 127,
 "transform": [{"filter": "datum.p=='2R'"}],
 "encoding": {
  "x": {"field": "n", "type": "quantitative", "scale": {"domain": [2.15, 20.85], "nice": false, "zero": false}, "axis": null},
  "y": {"field": "v", "type": "quantitative", "scale": {"type": "log", "domain": [329, 87000], "nice": false}, "axis": {"orient": "right", "values": [1000, 10000], "title": null, "labelExpr": "datum.value==1000?'10³':datum.value==10000?'10⁴':''"}},
  "color": {"field": "s", "type": "nominal", "scale": {"domain": ["K","U","S","D","GU","GL"], "range": ["#8c1a0c","#1e6eff","#28dcbe","#fa7d6e","#7b2c9e","#ff8cc8"]}}
 },
 "layer": [
  {"transform": [{"filter": "datum.s=='K'"}], "mark": {"type": "line", "strokeWidth": 1.6}},
  {"transform": [{"filter": "datum.s=='U'"}], "mark": {"type": "line", "strokeWidth": 1.6, "strokeDash": [3, 3]}},
  {"transform": [{"filter": "datum.s=='S'"}], "mark": {"type": "line", "strokeWidth": 1.6, "strokeDash": [7, 3]}},
  {"transform": [{"filter": "datum.s=='D'"}], "mark": {"type": "line", "strokeWidth": 1.6}},
  {"transform": [{"filter": "datum.s=='GU'"}], "mark": {"type": "point", "shape": "triangle-down", "filled": true, "size": 55, "opacity": 1}},
  {"transform": [{"filter": "datum.s=='GL'"}], "mark": {"type": "point", "shape": "triangle-up", "filled": true, "size": 55, "opacity": 1}}
 ]},
{"width": 151, "height": 127,
 "transform": [{"filter": "datum.p=='3L'"}],
 "encoding": {
  "x": {"field": "n", "type": "quantitative", "scale": {"domain": [2.15, 20.85], "nice": false, "zero": false}, "axis": null},
  "y": {"field": "v", "type": "quantitative", "scale": {"type": "log", "domain": [64.7, 550], "nice": false}, "axis": {"orient": "left", "values": [100, 200, 300, 400], "title": null, "labelExpr": "datum.value==100?'10²':datum.value==200?'2 × 10²':datum.value==300?'3 × 10²':datum.value==400?'4 × 10²':''"}},
  "color": {"field": "s", "type": "nominal", "scale": {"domain": ["K","U","S","D","GU","GL"], "range": ["#8c1a0c","#1e6eff","#28dcbe","#fa7d6e","#7b2c9e","#ff8cc8"]}}
 },
 "layer": [
  {"transform": [{"filter": "datum.s=='K'"}], "mark": {"type": "line", "strokeWidth": 1.6}},
  {"transform": [{"filter": "datum.s=='U'"}], "mark": {"type": "line", "strokeWidth": 1.6, "strokeDash": [3, 3]}},
  {"transform": [{"filter": "datum.s=='S'"}], "mark": {"type": "line", "strokeWidth": 1.6, "strokeDash": [7, 3]}},
  {"transform": [{"filter": "datum.s=='D'"}], "mark": {"type": "line", "strokeWidth": 1.6}},
  {"transform": [{"filter": "datum.s=='GU'"}], "mark": {"type": "point", "shape": "triangle-down", "filled": true, "size": 55, "opacity": 1}},
  {"transform": [{"filter": "datum.s=='GL'"}], "mark": {"type": "point", "shape": "triangle-up", "filled": true, "size": 55, "opacity": 1}}
 ]},
{"width": 151, "height": 127,
 "transform": [{"filter": "datum.p=='3R'"}],
 "encoding": {
  "x": {"field": "n", "type": "quantitative", "scale": {"domain": [2.15, 20.85], "nice": false, "zero": false}, "axis": null},
  "y": {"field": "v", "type": "quantitative", "scale": {"type": "log", "domain": [327, 119000], "nice": false}, "axis": {"orient": "right", "values": [1000, 10000, 100000], "title": null, "labelExpr": "datum.value==1000?'10³':datum.value==10000?'10⁴':datum.value==100000?'10⁵':''"}},
  "color": {"field": "s", "type": "nominal", "scale": {"domain": ["K","U","S","D","GU","GL"], "range": ["#8c1a0c","#1e6eff","#28dcbe","#fa7d6e","#7b2c9e","#ff8cc8"]}}
 },
 "layer": [
  {"transform": [{"filter": "datum.s=='K'"}], "mark": {"type": "line", "strokeWidth": 1.6}},
  {"transform": [{"filter": "datum.s=='U'"}], "mark": {"type": "line", "strokeWidth": 1.6, "strokeDash": [3, 3]}},
  {"transform": [{"filter": "datum.s=='S'"}], "mark": {"type": "line", "strokeWidth": 1.6, "strokeDash": [7, 3]}},
  {"transform": [{"filter": "datum.s=='D'"}], "mark": {"type": "line", "strokeWidth": 1.6}},
  {"transform": [{"filter": "datum.s=='GU'"}], "mark": {"type": "point", "shape": "triangle-down", "filled": true, "size": 55, "opacity": 1}},
  {"transform": [{"filter": "datum.s=='GL'"}], "mark": {"type": "point", "shape": "triangle-up", "filled": true, "size": 55, "opacity": 1}}
 ]},
{"width": 151, "height": 127,
 "transform": [{"filter": "datum.p=='4L'"}],
 "encoding": {
  "x": {"field": "n", "type": "quantitative", "scale": {"domain": [2.15, 20.85], "nice": false, "zero": false}, "axis": {"values": [10, 20], "format": "d", "title": "Number of vertices N"}},
  "y": {"field": "v", "type": "quantitative", "scale": {"type": "log", "domain": [20.8, 898], "nice": false}, "axis": {"orient": "left", "values": [100], "title": "Evaluations", "labelExpr": "datum.value==100?'10²':''"}},
  "color": {"field": "s", "type": "nominal", "scale": {"domain": ["K","U","S","D","GU","GL"], "range": ["#8c1a0c","#1e6eff","#28dcbe","#fa7d6e","#7b2c9e","#ff8cc8"]}}
 },
 "layer": [
  {"transform": [{"filter": "datum.s=='K'"}], "mark": {"type": "line", "strokeWidth": 1.6}},
  {"transform": [{"filter": "datum.s=='U'"}], "mark": {"type": "line", "strokeWidth": 1.6, "strokeDash": [3, 3]}},
  {"transform": [{"filter": "datum.s=='S'"}], "mark": {"type": "line", "strokeWidth": 1.6, "strokeDash": [7, 3]}},
  {"transform": [{"filter": "datum.s=='D'"}], "mark": {"type": "line", "strokeWidth": 1.6}},
  {"transform": [{"filter": "datum.s=='GU'"}], "mark": {"type": "point", "shape": "triangle-down", "filled": true, "size": 55, "opacity": 1}},
  {"transform": [{"filter": "datum.s=='GL'"}], "mark": {"type": "point", "shape": "triangle-up", "filled": true, "size": 55, "opacity": 1}}
 ]},
{"width": 151, "height": 127,
 "transform": [{"filter": "datum.p=='4R'"}],
 "encoding": {
  "x": {"field": "n", "type": "quantitative", "scale": {"domain": [2.15, 20.85], "nice": false, "zero": false}, "axis": {"values": [10, 20], "format": "d", "title": "Number of vertices N"}},
  "y": {"field": "v", "type": "quantitative", "scale": {"type": "log", "domain": [89.6, 203000], "nice": false}, "axis": {"orient": "right", "values": [1000, 100000], "title": null, "labelExpr": "datum.value==1000?'10³':datum.value==100000?'10⁵':''"}},
  "color": {"field": "s", "type": "nominal", "scale": {"domain": ["K","U","S","D","GU","GL"], "range": ["#8c1a0c","#1e6eff","#28dcbe","#fa7d6e","#7b2c9e","#ff8cc8"]}}
 },
 "layer": [
  {"transform": [{"filter": "datum.s=='K'"}], "mark": {"type": "line", "strokeWidth": 1.6}},
  {"transform": [{"filter": "datum.s=='U'"}], "mark": {"type": "line", "strokeWidth": 1.6, "strokeDash": [3, 3]}},
  {"transform": [{"filter": "datum.s=='S'"}], "mark": {"type": "line", "strokeWidth": 1.6, "strokeDash": [7, 3]}},
  {"transform": [{"filter": "datum.s=='D'"}], "mark": {"type": "line", "strokeWidth": 1.6}},
  {"transform": [{"filter": "datum.s=='GU'"}], "mark": {"type": "point", "shape": "triangle-down", "filled": true, "size": 55, "opacity": 1}},
  {"transform": [{"filter": "datum.s=='GL'"}], "mark": {"type": "point", "shape": "triangle-up", "filled": true, "size": 55, "opacity": 1}}
 ]}
],
"config": {
 "view": {"stroke": "#4d4d4d", "strokeWidth": 1.3},
 "axis": {"domain": false, "grid": false, "tickSize": -6, "tickColor": "#4d4d4d", "tickWidth": 1.2, "labelFont": "DejaVu Serif", "labelFontSize": 11, "labelColor": "#333333", "labelPadding": 13, "titleFont": "DejaVu Sans", "titleFontSize": 13, "titleFontWeight": "normal", "titleColor": "#333333", "titlePadding": 8, "labelFlush": false, "labelOverlap": false},
 "axisX": {"labelFont": "DejaVu Sans", "labelFontSize": 11, "titlePadding": 6},
 "title": {"font": "DejaVu Serif", "fontStyle": "italic", "fontSize": 16, "fontWeight": "normal", "color": "#222222", "offset": 6}
}
}
